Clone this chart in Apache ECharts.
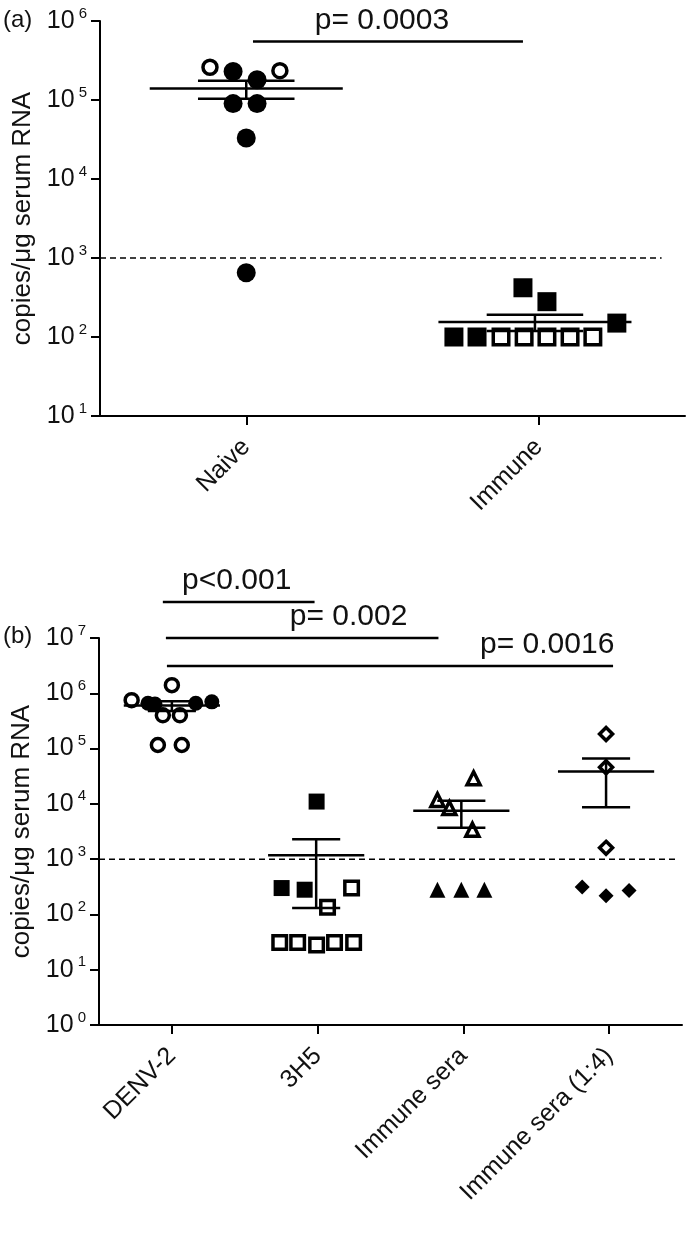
<!DOCTYPE html>
<html>
<head>
<meta charset="utf-8">
<script src="https://cdn.jsdelivr.net/npm/echarts@6/dist/echarts.min.js"></script>
<style>
  html, body { margin: 0; background: #fff; }
  #chart { width: 696px; height: 1238px; }
</style>
</head>
<body>
<div id="chart"></div>
<script>
// ---- panel (a) ----
const catsA = ['Naive', 'Immune']
const naiveOpen = [[0.376, 2.6e5], [0.615, 2.35e5]]
const naiveFilled = [[0.455, 2.3e5], [0.537, 1.8e5], [0.455, 9.0e4], [0.537, 9.0e4], [0.5, 3.3e4], [0.5, 650]]
const immuneFilled = [[1.446, 420], [1.528, 280], [1.767, 150], [1.21, 100], [1.289, 100]]
const immuneOpen = [[1.371, 100], [1.45, 100], [1.528, 100], [1.607, 100], [1.685, 100]]
// [x, mean, sem low, sem high]
const statsA = [[0.5, 1.4e5, 1.04e5, 1.75e5], [1.487, 155, 119, 191]]
// [x1, x2, y, text x]
const pLabelsA = ['p= 0.0003']
const pLinesA = [[0.523, 1.446, 5.5e5, 0.964]]
const limitA = [[0, 1000], [1.92, 1000]]

// ---- panel (b) ----
const catsB = ['DENV-2', '3H5', 'Immune sera', 'Immune sera (1:4)']
const denvOpen = [[0.224, 7.5e5], [0.5, 1.4e6], [0.438, 4.0e5], [0.555, 4.0e5], [0.404, 1.16e5], [0.568, 1.16e5]]
const denvFilled = [[0.336, 6.6e5], [0.384, 6.4e5], [0.664, 6.6e5], [0.774, 7.0e5]]
const h5Filled = [[1.493, 1.1e4], [1.253, 300], [1.411, 280]]
const h5Open = [[1.733, 300], [1.568, 135], [1.24, 31], [1.363, 31], [1.493, 28], [1.616, 31], [1.747, 31]]
const seraOpen = [[2.57, 2.9e4], [2.322, 1.17e4], [2.404, 8.4e3], [2.562, 3.4e3]]
const seraFilled = [[2.322, 280], [2.486, 280], [2.644, 280]]
const sera4Open = [[3.479, 1.83e5], [3.479, 4.6e4], [3.479, 1.6e3]]
const sera4Filled = [[3.315, 315], [3.479, 218], [3.637, 270]]
const statsB = [
  [0.5, 6.0e5, 4.8e5, 7.2e5],
  [1.49, 1180, 131, 2280],
  [2.486, 7.5e3, 3.7e3, 1.14e4],
  [3.479, 3.85e4, 8.7e3, 6.6e4]
]
const pLabelsB = ['p<0.001', 'p= 0.002', 'p= 0.0016']
const pLinesB = [[0.438, 1.479, 4.5e7, 0.945], [0.459, 2.329, 1.0e7, 1.712], [0.466, 3.527, 3.1e6, 3.075]]
const limitB = [[0, 1000], [3.96, 1000]]

const FONT = 'Liberation Sans, Arial, sans-serif'
const chart = echarts.init(document.getElementById('chart'))

const filled = {color: '#000', opacity: 1}
const hollow = {color: '#fff', borderColor: '#000', borderWidth: 3.5, opacity: 1}

// 均值 ± SEM
const statsItem = (params, api) => {
  const x = api.value(0)
  const m = api.coord([x, api.value(1)])
  const lo = api.coord([x, api.value(2)])
  const hi = api.coord([x, api.value(3)])
  const w = api.coord([x + 0.33, api.value(1)])[0] - m[0]
  const s = w / 2
  const st = {stroke: '#000', lineWidth: 2.5}
  return {
    type: 'group',
    children: [
      {type: 'line', shape: {x1: m[0] - w, y1: m[1], x2: m[0] + w, y2: m[1]}, style: st},
      {type: 'line', shape: {x1: m[0] - s, y1: hi[1], x2: m[0] + s, y2: hi[1]}, style: st},
      {type: 'line', shape: {x1: m[0] - s, y1: lo[1], x2: m[0] + s, y2: lo[1]}, style: st},
      {type: 'line', shape: {x1: m[0], y1: hi[1], x2: m[0], y2: lo[1]}, style: st}
    ]
  }
}

// p 值横线和文字
const pItem = labels => (params, api) => {
  const a = api.coord([api.value(0), api.value(2)])
  const b = api.coord([api.value(1), api.value(2)])
  const t = api.coord([api.value(3), api.value(2)])
  return {
    type: 'group',
    children: [
      {type: 'line', shape: {x1: a[0], y1: a[1], x2: b[0], y2: b[1]}, style: {stroke: '#000', lineWidth: 2.5}},
      {type: 'text', style: {
        text: labels[params.dataIndex], x: t[0], y: a[1] - 21,
        align: 'center', verticalAlign: 'middle',
        fontSize: 30, fontFamily: FONT, fill: '#111'
      }}
    ]
  }
}

const catAxis = (grid, data) => ({
  type: 'category', gridIndex: grid, data, boundaryGap: true,
  axisLine: {show: true, onZero: false, lineStyle: {color: '#000', width: 2}},
  axisTick: {show: true, alignWithLabel: true, length: 9, lineStyle: {color: '#000', width: 2}},
  axisLabel: {rotate: 45, fontSize: 25, fontFamily: FONT, color: '#111', margin: 27, interval: 0},
  splitLine: {show: false}
})

const logAxis = (grid, min, max) => ({
  type: 'log', logBase: 10, gridIndex: grid, min, max, interval: 1,
  name: 'copies/μg serum RNA', nameLocation: 'middle', nameGap: 63, nameRotate: 90,
  nameTextStyle: {fontSize: 26, fontFamily: FONT, color: '#111'},
  axisLine: {show: true, onZero: false, lineStyle: {color: '#000', width: 2}},
  axisTick: {show: true, length: 9, lineStyle: {color: '#000', width: 2}},
  splitLine: {show: false},
  axisLabel: {
    margin: 13,
    formatter: v => '{b|10}{s|' + Math.round(Math.log10(v)) + '}',
    rich: {
      b: {fontSize: 25, fontFamily: FONT, color: '#111', lineHeight: 30},
      s: {fontSize: 15, fontFamily: FONT, color: '#111', lineHeight: 30, verticalAlign: 'top', padding: [0, 0, 0, 4]}
    }
  }
})

const scatter = (x, y, data, symbol, size, style) => ({
  type: 'scatter', xAxisIndex: x, yAxisIndex: y, data, symbol, symbolSize: size,
  itemStyle: style, z: 3
})

chart.setOption({
  animation: false,
  backgroundColor: '#fff',
  grid: [
    {left: 100, right: 11, top: 21, height: 395},
    {left: 99, right: 14, top: 638, height: 387}
  ],
  xAxis: [
    catAxis(0, catsA),
    {type: 'value', gridIndex: 0, min: 0, max: 2, show: false},
    catAxis(1, catsB),
    {type: 'value', gridIndex: 1, min: 0, max: 4, show: false}
  ],
  yAxis: [logAxis(0, 10, 1e6), logAxis(1, 1, 1e7)],
  graphic: [
    {type: 'text', left: 3, top: 8, style: {text: '(a)', fontSize: 24, fontFamily: FONT, fill: '#111'}},
    {type: 'text', left: 3, top: 624, style: {text: '(b)', fontSize: 24, fontFamily: FONT, fill: '#111'}}
  ],
  series: [
    {type: 'line', xAxisIndex: 1, yAxisIndex: 0, data: limitA, symbol: 'none', z: 1,
      lineStyle: {color: '#000', width: 1.5, type: [6, 4]}},
    scatter(1, 0, naiveFilled, 'circle', 19, filled),
    scatter(1, 0, naiveOpen, 'circle', 14, hollow),
    scatter(1, 0, immuneFilled, 'rect', 19, filled),
    scatter(1, 0, immuneOpen, 'rect', 15.5, hollow),
    {type: 'custom', xAxisIndex: 1, yAxisIndex: 0, data: statsA, renderItem: statsItem, z: 4,
      encode: {x: 0, y: [1, 2, 3]}},
    {type: 'custom', xAxisIndex: 1, yAxisIndex: 0, data: pLinesA, renderItem: pItem(pLabelsA), z: 4,
      clip: false, encode: {x: [0, 1], y: 2}},

    {type: 'line', xAxisIndex: 3, yAxisIndex: 1, data: limitB, symbol: 'none', z: 1,
      lineStyle: {color: '#000', width: 1.5, type: [6, 4]}},
    scatter(3, 1, denvFilled, 'circle', 15, filled),
    scatter(3, 1, denvOpen, 'circle', 13, hollow),
    scatter(3, 1, h5Filled, 'rect', 16, filled),
    scatter(3, 1, h5Open, 'rect', 13.5, hollow),
    scatter(3, 1, seraFilled, 'triangle', 16, filled),
    scatter(3, 1, seraOpen, 'triangle', 13, hollow),
    scatter(3, 1, sera4Filled, 'diamond', 15, filled),
    scatter(3, 1, sera4Open, 'diamond', 13, hollow),
    {type: 'custom', xAxisIndex: 3, yAxisIndex: 1, data: statsB, renderItem: statsItem, z: 4,
      encode: {x: 0, y: [1, 2, 3]}},
    {type: 'custom', xAxisIndex: 3, yAxisIndex: 1, data: pLinesB, renderItem: pItem(pLabelsB), z: 4,
      clip: false, encode: {x: [0, 1], y: 2}}
  ]
})
</script>
</body>
</html>
